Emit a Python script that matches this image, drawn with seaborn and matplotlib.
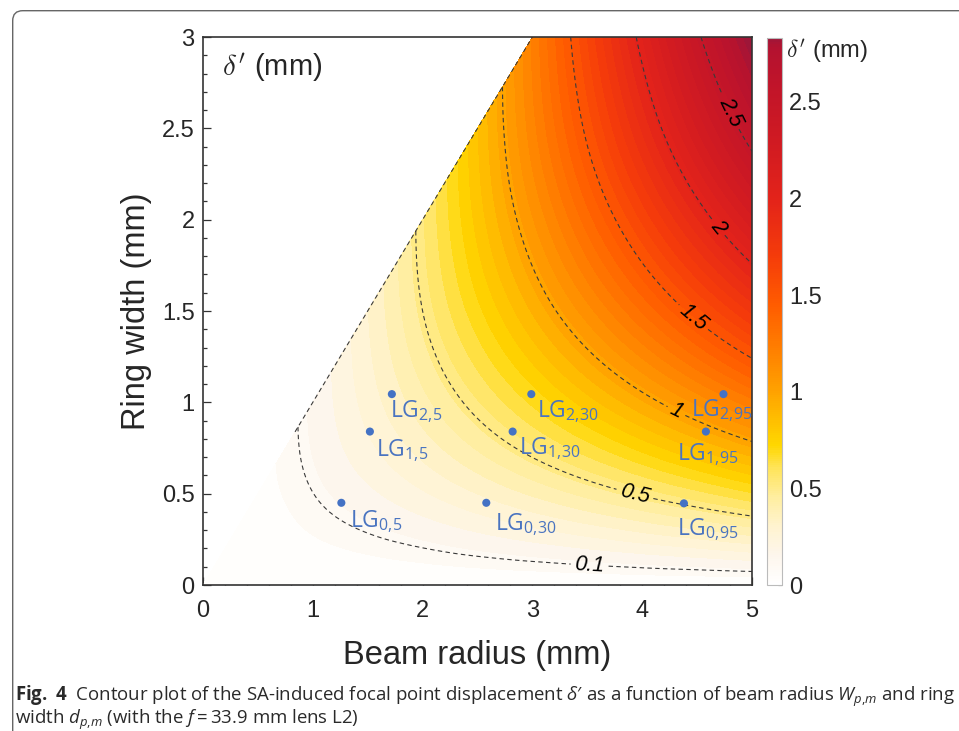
import numpy as np
import matplotlib
matplotlib.use("Agg")
import matplotlib.pyplot as plt
import matplotlib.tri as mtri
from matplotlib.cm import ScalarMappable
from matplotlib.colors import LinearSegmentedColormap, Normalize
from matplotlib.patches import FancyBboxPatch
from matplotlib.ticker import MultipleLocator, FormatStrFormatter
from matplotlib.transforms import IdentityTransform
import seaborn as sns

# grid of the map: beam radius W (mm) and ring width d (mm)
beam_radius = [0, 0.5, 1, 1.5, 2, 2.5, 3, 3.5, 4, 4.5, 5]
ring_width = [0, 0.5, 1, 1.5, 2, 2.5, 3]

# delta' (mm), one row per beam radius (only d <= W exists)
delta_by_radius = [
    [0.0],
    [0.0, 0.033],
    [0.0, 0.099, 0.132],
    [0.0, 0.166, 0.265, 0.298],
    [0.0, 0.233, 0.400, 0.500, 0.533],
    [0.0, 0.302, 0.536, 0.704, 0.804, 0.838],
    [0.0, 0.371, 0.674, 0.910, 1.078, 1.180, 1.213],
    [0.0, 0.441, 0.814, 1.119, 1.356, 1.526, 1.627],
    [0.0, 0.512, 0.955, 1.330, 1.637, 1.876, 2.046],
    [0.0, 0.583, 1.098, 1.544, 1.921, 2.230, 2.470],
    [0.0, 0.656, 1.242, 1.760, 2.208, 2.588, 2.898],
]

contour_levels = [0.1, 0.5, 1, 1.5, 2, 2.5]
label_spots = [(3.52, 0.10), (3.93, 0.49), (4.31, 0.95), (4.46, 1.46), (4.68, 1.95), (4.81, 2.59)]

# LG modes
lg_names = ["LG$_{0{,}5}$", "LG$_{1{,}5}$", "LG$_{2{,}5}$",
            "LG$_{0{,}30}$", "LG$_{1{,}30}$", "LG$_{2{,}30}$",
            "LG$_{0{,}95}$", "LG$_{1{,}95}$", "LG$_{2{,}95}$"]
lg_radius = [1.26, 1.52, 1.72, 2.58, 2.82, 2.99, 4.38, 4.58, 4.74]
lg_width = [0.45, 0.84, 1.045, 0.45, 0.84, 1.045, 0.447, 0.84, 1.045]
lg_offsets = [(6.0, -17.6), (4.1, -18), (-1.1, -16.6),
              (6.5, -19.4), (4.3, -16.3), (4.1, -16.8),
              (-5.3, -22.8), (-21.1, -20.4), (-23.5, -16.1)]

# colour map anchors
cmap_values = [0.0, 0.15, 0.30, 0.45, 0.60, 0.72, 0.85, 1.0, 1.2, 1.45, 1.7, 2.0, 2.3, 2.6, 2.79, 2.83]
cmap_colors = ["#ffffff", "#fdf6ec", "#fff3cf", "#ffeea0", "#ffe45a", "#ffd700", "#ffbf00", "#ffa200",
               "#ff8200", "#ff5c00", "#f53c0a", "#e3231a", "#d01a22", "#c0142a", "#b31230", "#9e1638"]
vmax = 2.83

sns.set_theme(style="white")
plt.rcParams["font.family"] = ["Liberation Sans", "DejaVu Sans"]
plt.rcParams["mathtext.fontset"] = "custom"
plt.rcParams["mathtext.rm"] = "Open Sans"
plt.rcParams["mathtext.it"] = "Open Sans:italic"
plt.rcParams["mathtext.bf"] = "Open Sans:bold"

cmap = LinearSegmentedColormap.from_list(
    "delta", list(zip(np.array(cmap_values) / vmax, cmap_colors)))
norm = Normalize(0, vmax)

# build the scattered nodes of the defined region and refine
xs, ys, zs = [], [], []
for w, row in zip(beam_radius, delta_by_radius):
    for d, v in zip(ring_width, row):
        xs.append(w)
        ys.append(d)
        zs.append(v)
xs, ys, zs = np.array(xs, float), np.array(ys, float), np.array(zs, float)
tri = mtri.Triangulation(xs, ys)
interp = mtri.CubicTriInterpolator(tri, zs, kind="min_E")
refiner = mtri.UniformTriRefiner(tri)
tri_f, z_f = refiner.refine_field(zs, triinterpolator=interp, subdiv=4)
z_f = np.clip(z_f, 0, None)

fig = plt.figure(figsize=(9.59, 7.31), dpi=100)
ax = fig.add_axes([203 / 959, 146 / 731, 549 / 959, 548 / 731])
cax = fig.add_axes([767 / 959, 146 / 731, 15 / 959, 547 / 731])

ax.tricontourf(tri_f, z_f, levels=np.linspace(0, vmax, 48), cmap=cmap, norm=norm, extend="max")
cs = ax.tricontour(tri_f, z_f, levels=contour_levels, colors="#3a3a3a",
                   linewidths=0.8, linestyles=[(0, (4, 3))])
labels = ax.clabel(cs, manual=label_spots, inline=True, inline_spacing=4, fmt="%g", fontsize=15.5)
for t in labels:
    t.set_fontstyle("italic")
    t.set_color("black")

# edge of the defined region (d = W) above the 0.1 level
diag = [row[i] for i, row in enumerate(delta_by_radius[:len(ring_width)])]
kink = np.interp(contour_levels[0], diag, ring_width)
ax.plot([kink, ring_width[-1]], [kink, ring_width[-1]], color="#3a3a3a", lw=0.8,
        linestyle=(0, (4, 3)))

sns.scatterplot(x=lg_radius, y=lg_width, color="#4472c4", s=34, edgecolor="none", ax=ax, zorder=5)
for name, x, y, off in zip(lg_names, lg_radius, lg_width, lg_offsets):
    ax.annotate(name, (x, y), xytext=off, textcoords="offset points", fontsize=16.5,
                family="Open Sans", color="#4a74c0", ha="left", va="baseline", zorder=6)

ax.text(0.035, 0.945, r"$\delta'$ (mm)", transform=ax.transAxes, fontsize=21,
        va="center", ha="left", math_fontfamily="cm")

ax.set_xlim(0, 5)
ax.set_ylim(0, 3)
ax.xaxis.set_major_locator(MultipleLocator(1))
ax.xaxis.set_minor_locator(MultipleLocator(0.2))
ax.yaxis.set_major_locator(MultipleLocator(0.5))
ax.yaxis.set_minor_locator(MultipleLocator(0.1))
ax.xaxis.set_major_formatter(FormatStrFormatter("%g"))
ax.yaxis.set_major_formatter(FormatStrFormatter("%g"))
ax.tick_params(which="both", direction="in", top=False, right=False, color="#333333",
               bottom=True, left=True)
ax.tick_params(which="major", length=6, width=0.9, labelsize=17)
ax.tick_params(which="minor", length=3, width=0.9)
ax.tick_params(axis="x", pad=11)
ax.tick_params(axis="y", pad=6)
for s in ax.spines.values():
    s.set_color("#333333")
    s.set_linewidth(1.2)
ax.set_xlabel("Beam radius (mm)", fontsize=23.5)
ax.set_ylabel("Ring width (mm)", fontsize=23.5)
ax.xaxis.set_label_coords(0.5, -0.10)
ax.yaxis.set_label_coords(-0.092, 0.5)

cb = fig.colorbar(ScalarMappable(norm=norm, cmap=cmap), cax=cax)
cb.set_ticks([0, 0.5, 1, 1.5, 2, 2.5])
cb.ax.yaxis.set_major_formatter(FormatStrFormatter("%g"))
cb.ax.tick_params(labelsize=17, length=3, width=0.8, direction="in", color="#555555", pad=5)
cb.outline.set_edgecolor("#bbbbbb")
cb.outline.set_linewidth(0.8)
cax.text(1.25, 2.76, r"$\delta'$ (mm)", transform=cax.get_yaxis_transform(), fontsize=17,
         va="center", ha="left", math_fontfamily="cm")

# caption and frame
cap_family = ["Open Sans", "DejaVu Sans"]
fig.text(15 / 959, 30 / 731,
         "$\\mathbf{Fig.\\ 4}$  Contour plot of the SA-induced focal point displacement $\\delta$\u2032 "
         "as a function of beam radius $W_{p{,}m}$ and ring",
         family=cap_family, fontsize=13.4, color="#2a2a2a", ha="left", va="baseline")
fig.text(15 / 959, 6.5 / 731, "width $d_{p{,}m}$ (with the $f$\u2009=\u200933.9 mm lens L2)",
         family=cap_family, fontsize=13.4, color="#2a2a2a", ha="left", va="baseline")
frame = FancyBboxPatch((12.7, -60), 1000, 720.3 + 60, boxstyle="round,pad=0,rounding_size=10",
                       transform=IdentityTransform(), fill=False, edgecolor="#666666", lw=1)
fig.add_artist(frame)

fig.savefig("out.png", dpi=100)
